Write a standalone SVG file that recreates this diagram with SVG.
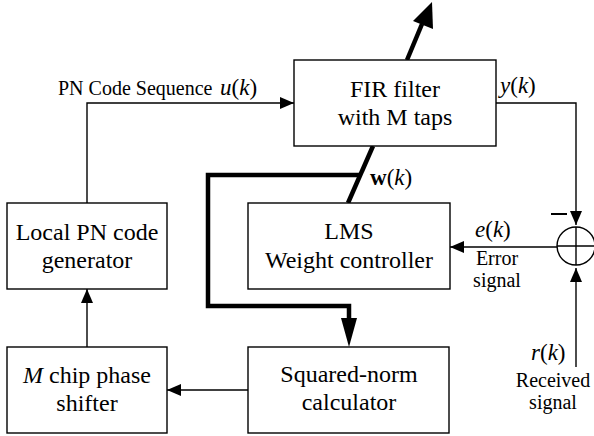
<svg xmlns="http://www.w3.org/2000/svg" width="594" height="436" viewBox="0 0 594 436" font-family="'Liberation Serif', 'Times New Roman', serif">
<style>
text { font-family: "Liberation Serif", "Times New Roman", serif; fill: #000; }
.t { font-size: 24px; text-anchor: middle; }
.box { fill: #fff; stroke: #000; stroke-width: 1.4; }
</style>
<defs>
<marker id="ah" markerWidth="14" markerHeight="12" refX="14" refY="6" orient="auto" markerUnits="userSpaceOnUse">
<path d="M0,0 L14,6 L0,12 Z" fill="#000"/>
</marker>
</defs>
<g id="connectors" fill="none" stroke="#000" stroke-width="1.4">
<path d="M87,203 V103 H294" marker-end="url(#ah)"/>
<path d="M87,347 V289" marker-end="url(#ah)"/>
<path d="M248,390 H167" marker-end="url(#ah)"/>
<path d="M496,103 H576 V225" marker-end="url(#ah)"/>
<path d="M557,247 H450" marker-end="url(#ah)"/>
<path d="M576,367 V268" marker-end="url(#ah)"/>
<line x1="551" y1="214" x2="567" y2="214" stroke-width="2"/>
<line x1="373" y1="146" x2="348" y2="203" stroke-width="4.5"/>
<path d="M360,175 H208 V306 H349 V320" stroke-width="4.5"/>
<polygon points="341,318 357,318 349,347" fill="#000" stroke="none"/>
<line x1="407" y1="60" x2="422" y2="24" stroke-width="4.5"/>
<polygon points="432,2 433,29 413,21" fill="#000" stroke="none"/>
</g>
<g id="fir">
<rect class="box" x="294" y="60" width="202" height="86"/>
<text class="t" x="395" y="97">FIR filter</text>
<text class="t" x="395" y="125">with M taps</text>
</g>
<g id="lms">
<rect class="box" x="248" y="203" width="202" height="86"/>
<text class="t" x="349" y="239">LMS</text>
<text class="t" x="349" y="268">Weight controller</text>
</g>
<g id="localpn">
<rect class="box" x="7" y="203" width="160" height="86"/>
<text class="t" x="87" y="240">Local PN code</text>
<text class="t" x="87" y="268">generator</text>
</g>
<g id="mchip">
<rect class="box" x="7" y="347" width="160" height="86"/>
<text class="t" x="87" y="383"><tspan font-style="italic">M</tspan> chip phase</text>
<text class="t" x="87" y="411">shifter</text>
</g>
<g id="sqnorm">
<rect class="box" x="248" y="347" width="201" height="86"/>
<text class="t" x="349" y="382">Squared-norm</text>
<text class="t" x="349" y="410">calculator</text>
</g>
<g id="sum">
<circle cx="576" cy="246" r="19" fill="#fff" stroke="#000" stroke-width="1.4"/>
<line x1="557" y1="246" x2="595" y2="246" stroke="#000" stroke-width="1.4"/>
<line x1="576" y1="227" x2="576" y2="265" stroke="#000" stroke-width="1.4"/>
</g>
<g id="labels">
<text x="58" y="95" font-size="20">PN Code Sequence</text>
<text x="220" y="95" font-size="23"><tspan font-style="italic">u</tspan>(<tspan font-style="italic">k</tspan>)</text>
<text x="500" y="93" font-size="23"><tspan font-style="italic">y</tspan>(<tspan font-style="italic">k</tspan>)</text>
<text x="370" y="185" font-size="23"><tspan font-weight="bold">w</tspan>(<tspan font-style="italic">k</tspan>)</text>
<text x="475" y="237" font-size="23"><tspan font-style="italic">e</tspan>(<tspan font-style="italic">k</tspan>)</text>
<text x="531" y="360" font-size="23"><tspan font-style="italic">r</tspan>(<tspan font-style="italic">k</tspan>)</text>
<text x="497" y="265" font-size="20" text-anchor="middle">Error</text>
<text x="497" y="287" font-size="20" text-anchor="middle">signal</text>
<text x="553" y="387" font-size="20" text-anchor="middle">Received</text>
<text x="553" y="409" font-size="20" text-anchor="middle">signal</text>
</g>
</svg>
